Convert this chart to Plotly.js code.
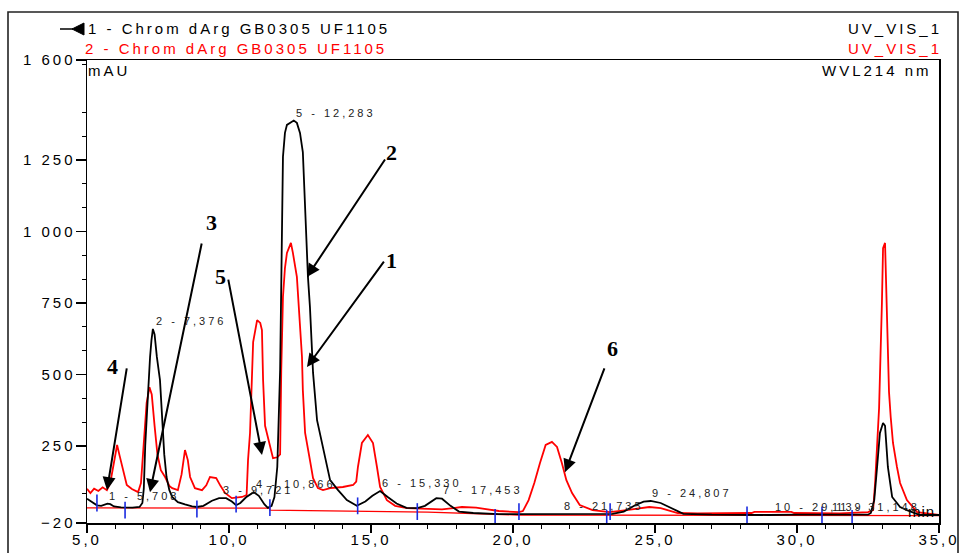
<!DOCTYPE html>
<html><head><meta charset="utf-8">
<script src="https://cdn.plot.ly/plotly-3.0.1.min.js"></script>
<style>
html,body{margin:0;padding:0;background:#fff;}
#chart{width:960px;height:553px;}
.xtick text,.ytick text{letter-spacing:3px;}
</style></head><body><div id="chart"></div>
<script>
// Trace 1 (black) - Chrom dArg GB0305 UF1105, UV_VIS_1
const blackT = [5.0,5.15,5.35,5.5,5.62,5.72,5.82,5.95,6.2,6.6,6.85,6.95,7.0,7.05,7.12,7.17,7.22,7.27,7.32,7.38,7.46,7.57,7.64,7.72,7.8,7.9,8.0,8.2,8.45,8.7,8.87,9.1,9.4,9.65,9.9,10.1,10.25,10.4,10.6,10.87,11.05,11.25,11.37,11.5,11.6,11.7,11.8,11.87,11.9,11.97,12.04,12.2,12.28,12.39,12.5,12.6,12.68,12.78,12.85,12.96,13.1,13.27,13.45,13.56,13.84,14.15,14.5,14.8,15.05,15.32,15.6,15.9,16.25,16.63,16.9,17.1,17.3,17.5,17.8,18.1,18.6,19.5,20.5,21.5,22.5,23.5,23.9,24.3,24.6,24.85,25.2,25.6,26.0,27.0,28.0,29.0,30.0,31.0,32.0,32.5,32.6,32.72,32.82,32.92,33.03,33.1,33.2,33.35,33.63,33.87,34.33,35.0];
const blackV = [65,55,42,40,44,48,46,38,35,34,36,50,100,250,380,480,560,620,659,640,561,480,365,220,141,95,71,53,45,38,36,40,58,67,67,55,42,50,70,88,75,45,33,40,71,176,515,1065,1261,1345,1373,1383,1388,1380,1345,1278,1065,841,736,505,340,260,176,130,95,60,40,55,75,92,70,48,33,32,40,55,67,65,40,20,15,11,11,11,11,12,20,42,55,57,50,30,12,9,8,8,9,8,8,9,15,60,176,295,330,320,176,71,36,25,8,8];

// Trace 2 (red) - Chrom dArg GB0305 UF1105, UV_VIS_1
const redT = [5.0,5.12,5.25,5.4,5.55,5.7,5.82,5.95,6.06,6.15,6.25,6.4,6.58,6.8,6.9,7.0,7.1,7.2,7.28,7.38,7.48,7.6,7.75,7.9,8.0,8.2,8.33,8.45,8.55,8.63,8.8,9.05,9.2,9.33,9.55,9.7,9.86,10.1,10.46,10.62,10.67,10.74,10.81,10.85,10.99,11.1,11.16,11.2,11.27,11.35,11.44,11.55,11.7,11.8,11.84,11.9,11.97,12.04,12.18,12.25,12.39,12.43,12.5,12.57,12.6,12.68,12.85,12.96,13.13,13.31,13.56,14.01,14.37,14.48,14.54,14.68,14.89,15.07,15.21,15.32,15.56,15.85,16.27,16.8,17.5,17.9,18.2,18.7,19.1,19.5,20.2,20.35,20.55,20.75,20.95,21.15,21.37,21.55,21.72,21.88,22.08,22.35,22.8,23.4,24.0,24.5,24.8,25.2,25.8,26.5,27.5,28.4,28.5,29.8,29.9,31.5,32.5,32.68,32.75,32.82,32.89,32.99,33.03,33.1,33.17,33.24,33.3,33.38,33.52,33.63,33.87,34.23,35.0];
const redV = [100,85,100,92,105,95,120,200,253,215,176,113,99,88,120,250,400,455,430,320,220,165,141,110,102,95,150,235,200,141,102,95,112,141,137,110,85,67,71,78,200,295,480,613,690,680,655,480,320,290,246,207,210,220,515,771,872,925,960,925,841,771,680,561,445,295,200,137,102,95,102,106,113,125,176,260,288,260,176,106,60,40,32,30,28,32,36,34,28,22,18,22,60,120,190,253,264,246,190,130,85,43,25,18,25,33,36,32,15,14,14,15,19,19,15,14,18,25,120,235,382,750,942,960,690,438,350,260,176,120,60,18,8];

// Red integration baseline
const baseT = [5.0,11.44,11.44,17.0,20.2,35.0];
const baseV = [33,32,25,18,8,6];

// Blue peak delimiters
const cutT = [5.35,6.34,8.87,10.25,11.44,14.53,16.63,19.37,20.21,23.30,23.42,28.24,30.88,31.94];
const cutV = [50,25,29,46,34,40,20,0,20,-4,20,8,8,-4];

// Peak table of trace 1
const peakNums = [1,2,3,4,5,6,7,8,9,10,11];
const peakTimes = [5.708,7.376,9.721,10.866,12.283,15.330,17.453,21.735,24.807,29.139,31.148];
const peakHeights = [48,659,67,88,1388,92,67,11,57,9,8];

// Callout numbers
const calloutText = ['2','1','3','5','4','6'];

const yTicks = [-20,250,500,750,1000,1250,1600];

const traces = [
  {x: baseT, y: baseV, mode:'lines', line:{color:'#ff0000', width:1.3}, hoverinfo:'skip'},
  {x: redT, y: redV, mode:'lines', line:{color:'#ff0000', width:1.8}, name:'2'},
  {x: blackT, y: blackV, mode:'lines', line:{color:'#000000', width:1.8}, name:'1'},
  {x: cutT, y: cutV, mode:'markers', marker:{symbol:'line-ns', size:12, line:{color:'#1a2be0', width:1.6}}, hoverinfo:'skip'}
];

const px2x = p => (p-87)/852;
const px2y = p => (523-p)/463;

const ann = [];
const annLS = [];
function addAnn(a, ls){ ann.push(a); annLS.push(ls||0); }

// header
const hdrFont = {family:'Liberation Sans, Arial', size:15};
addAnn({xref:'paper', yref:'paper', x:px2x(86), y:px2y(29), xanchor:'left', yanchor:'middle', showarrow:false,
  text:'1 - Chrom dArg GB0305 UF1105', font:Object.assign({color:'#000'}, hdrFont)}, 3);
addAnn({xref:'paper', yref:'paper', x:px2x(83), y:px2y(48), xanchor:'left', yanchor:'middle', showarrow:false,
  text:'2 - Chrom dArg GB0305 UF1105', font:Object.assign({color:'#ff0000'}, hdrFont)}, 3);
addAnn({xref:'paper', yref:'paper', x:px2x(846), y:px2y(29), xanchor:'left', yanchor:'middle', showarrow:false,
  text:'UV_VIS_1', font:Object.assign({color:'#000'}, hdrFont)}, 3);
addAnn({xref:'paper', yref:'paper', x:px2x(846), y:px2y(48), xanchor:'left', yanchor:'middle', showarrow:false,
  text:'UV_VIS_1', font:Object.assign({color:'#ff0000'}, hdrFont)}, 3);
addAnn({xref:'paper', yref:'paper', x:px2x(86), y:px2y(70), xanchor:'left', yanchor:'middle', showarrow:false,
  text:'mAU', font:Object.assign({color:'#000'}, hdrFont)}, 3);
addAnn({xref:'paper', yref:'paper', x:px2x(820), y:px2y(70), xanchor:'left', yanchor:'middle', showarrow:false,
  text:'WVL214 nm', font:Object.assign({color:'#000'}, hdrFont)}, 3);
addAnn({xref:'paper', yref:'paper', x:px2x(906), y:px2y(511), xanchor:'left', yanchor:'middle', showarrow:false,
  text:'min', font:Object.assign({color:'#000'}, hdrFont)}, 1);

// peak labels
peakNums.forEach((n,i)=>{
  addAnn({x: peakTimes[i], y: peakHeights[i]+28, xanchor:'left', yanchor:'middle', showarrow:false,
    text: n + ' - ' + peakTimes[i].toFixed(3).replace('.', ','),
    font:{family:'Liberation Sans, Arial', size:11, color:'#222'}}, 3);
});

// callout arrows: tip and tail in data coordinates
const arrowTips = [[12.746,841],[12.746,526],[7.218,88],[11.162,218],[5.704,95],[21.831,158]];
const arrowTails = [[15.528,1257],[15.493,900],[9.049,963],[9.965,837],[6.408,526],[23.239,526]];
const calloutPos = [[15.739,1275],[15.739,900],[9.401,1030],[9.683,841],[5.915,526],[23.486,592]];
calloutText.forEach((t,i)=>{
  addAnn({x: arrowTips[i][0], y: arrowTips[i][1], ax: arrowTails[i][0], ay: arrowTails[i][1],
    axref:'x', ayref:'y', text:'', showarrow:true, arrowhead:2, arrowsize:1.3, arrowwidth:2, arrowcolor:'#000', standoff:0}, 0);
  addAnn({x: calloutPos[i][0], y: calloutPos[i][1], xanchor:'center', yanchor:'middle', showarrow:false,
    text:'<b>'+t+'</b>', font:{family:'Liberation Serif, Times New Roman', size:22, color:'#000'}}, 0);
});

const yMinor = [];
for (let k=1;k<=19;k++){ const v=k*250/3; if (k%3!==0) yMinor.push(v); }

const layout = {
  width:960, height:553,
  margin:{l:87, r:21, t:60, b:30, pad:0},
  paper_bgcolor:'#fff', plot_bgcolor:'#fff',
  showlegend:false,
  separators:', ',
  xaxis:{range:[5,35], tickmode:'linear', tick0:5, dtick:5, tickformat:'.1f',
    showgrid:false, zeroline:false, showline:true, linecolor:'#000', linewidth:1.5, mirror:true,
    ticks:'outside', ticklen:8, tickwidth:1.5, tickcolor:'#000', ticklabelstandoff:-6,
    tickfont:{family:'Liberation Sans, Arial', size:15, color:'#000'},
    minor:{dtick:1, tick0:5, ticks:'outside', ticklen:4, tickcolor:'#000', tickwidth:1}},
  yaxis:{range:[-20,1600], tickmode:'array', tickvals:yTicks, tickformat:',d',
    showgrid:false, zeroline:false, showline:true, linecolor:'#000', linewidth:1.5, mirror:true,
    ticks:'outside', ticklen:10, tickwidth:1.5, tickcolor:'#000', ticklabelstandoff:-3,
    tickfont:{family:'Liberation Sans, Arial', size:15, color:'#000'},
    minor:{tickmode:'array', tickvals:yMinor, ticks:'outside', ticklen:4, tickcolor:'#000', tickwidth:1}},
  shapes:[
    {type:'rect', xref:'paper', yref:'paper', x0:px2x(8), x1:px2x(958), y0:px2y(560), y1:px2y(12),
      line:{color:'#222', width:1.6}, fillcolor:'rgba(0,0,0,0)', layer:'below'},
    {type:'line', xref:'paper', yref:'paper', x0:px2x(60), x1:px2x(73), y0:px2y(29), y1:px2y(29),
      line:{color:'#000', width:1.5}},
    {type:'path', xref:'paper', yref:'paper',
      path:'M '+px2x(72)+' '+px2y(29)+' L '+px2x(84)+' '+px2y(23)+' L '+px2x(84)+' '+px2y(35)+' Z',
      fillcolor:'#000', line:{color:'#000', width:1}}
  ],
  annotations: ann
};

Plotly.newPlot('chart', traces, layout, {displayModeBar:false, staticPlot:true}).then(()=>{
  document.querySelectorAll('#chart .annotation').forEach(g=>{
    const i = +g.getAttribute('data-index');
    const ls = annLS[i];
    if (!ls) return;
    const t = g.querySelector('text.annotation-text') || g.querySelector('text');
    if (!t) return;
    const shift = ls * t.textContent.length / 2;
    t.style.letterSpacing = ls + 'px';
    const nodes = [t].concat(Array.from(t.querySelectorAll('tspan[x]')));
    nodes.forEach(nd=>{
      const xv = nd.getAttribute('x');
      if (xv !== null && xv !== '') nd.setAttribute('x', parseFloat(xv) + shift);
    });
  });
});
</script></body></html>
